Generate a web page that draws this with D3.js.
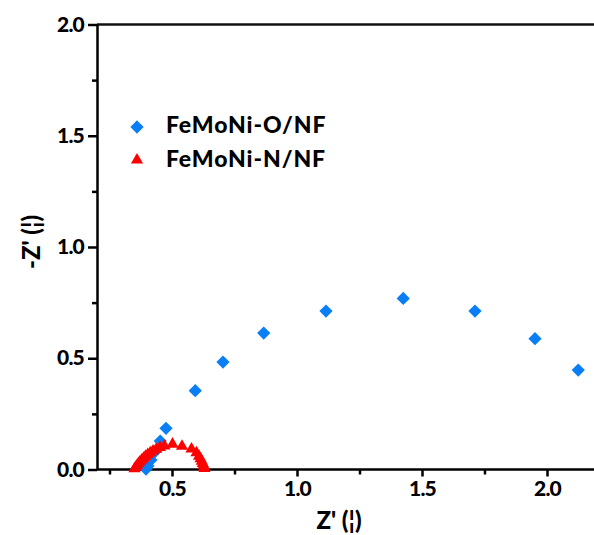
<!DOCTYPE html>
<html lang="en">
<head>
  <meta charset="UTF-8">
  <title>Nyquist plot</title>
  <script src="https://d3js.org/d3.v7.min.js"></script>
  <style>
    body { margin: 0; background: #fff; }
    text { font-family: Lato, "Open Sans", sans-serif; font-weight: 900; }
  </style>
</head>
<body>
<div id="chart"></div>
<script>
// FeMoNi-O/NF : Z' and -Z'' pairs
const oxideRe = [0.396, 0.404, 0.416, 0.432, 0.453, 0.476, 0.593, 0.704, 0.867, 1.116, 1.425, 1.712, 1.952, 2.125];
const oxideIm = [0.002, 0.016, 0.043, 0.080, 0.128, 0.185, 0.354, 0.483, 0.613, 0.712, 0.769, 0.712, 0.588, 0.447];

// FeMoNi-N/NF
const nitrideRe = [0.350, 0.355, 0.360, 0.366, 0.372, 0.379, 0.386, 0.394, 0.403, 0.413, 0.424, 0.437, 0.452, 0.470, 0.502,
                   0.540, 0.578, 0.598, 0.608, 0.614, 0.619, 0.623, 0.626, 0.628, 0.630];
const nitrideIm = [0.003, 0.010, 0.018, 0.027, 0.035, 0.043, 0.051, 0.059, 0.067, 0.075, 0.083, 0.091, 0.099, 0.106, 0.114,
                   0.104, 0.092, 0.075, 0.060, 0.048, 0.037, 0.027, 0.018, 0.010, 0.004];

const seriesNames = ["FeMoNi-O/NF", "FeMoNi-N/NF"];
const xMajor = [0.5, 1.0, 1.5, 2.0];
const xMinor = [0.25, 0.75, 1.25, 1.75];
const yMajor = [0.0, 0.5, 1.0, 1.5, 2.0];
const yMinor = [0.25, 0.75, 1.25, 1.75];

const width = 594, height = 535;
const plotLeft = 97, plotTop = 24.5, plotBottom = 469.5;

const svg = d3.select("#chart").append("svg")
  .attr("width", width)
  .attr("height", height);

// plot runs past the right edge of the picture
const x = d3.scaleLinear().domain([0.2, 2.25]).range([plotLeft, plotLeft + 250 * 2.05]);
const y = d3.scaleLinear().domain([0, 2]).range([plotBottom, plotTop]);

// top frame line
svg.append("line")
  .attr("x1", plotLeft).attr("x2", width + 10)
  .attr("y1", plotTop).attr("y2", plotTop)
  .attr("stroke", "#111").attr("stroke-width", 2.4);

function styleAxis(g) {
  g.select(".domain").attr("stroke", "#000").attr("stroke-width", 2.5);
  g.selectAll(".tick line").attr("stroke", "#000").attr("stroke-width", 2.5);
  g.selectAll(".tick text").attr("fill", "#000").style("font-size", "21px").style("letter-spacing", "-0.8px");
}

// x axis
const xAxisG = svg.append("g").attr("transform", `translate(0,${plotBottom})`);
xAxisG.call(d3.axisBottom(x).tickValues(xMajor).tickFormat(d3.format(".1f")).tickSize(7).tickPadding(5).tickSizeOuter(0));
styleAxis(xAxisG);
xAxisG.select(".domain").attr("d", `M${plotLeft},0H${width + 10}`);
const xMinorG = svg.append("g").attr("transform", `translate(0,${plotBottom})`);
xMinorG.call(d3.axisBottom(x).tickValues(xMinor).tickFormat("").tickSize(5).tickSizeOuter(0));
styleAxis(xMinorG);
xMinorG.select(".domain").remove();

// y axis
const yAxisG = svg.append("g").attr("transform", `translate(${plotLeft},0)`);
yAxisG.call(d3.axisLeft(y).tickValues(yMajor).tickFormat(d3.format(".1f")).tickSize(9).tickPadding(4).tickSizeOuter(0));
styleAxis(yAxisG);
const yMinorG = svg.append("g").attr("transform", `translate(${plotLeft},0)`);
yMinorG.call(d3.axisLeft(y).tickValues(yMinor).tickFormat("").tickSize(5).tickSizeOuter(0));
styleAxis(yMinorG);
yMinorG.select(".domain").remove();

// axis titles
svg.append("text")
  .attr("x", 339).attr("y", 529)
  .attr("text-anchor", "middle")
  .style("font-size", "24px")
  .text("Z' (¦)");

svg.append("text")
  .attr("transform", "translate(40,242) rotate(-90)")
  .attr("text-anchor", "middle")
  .style("font-size", "24px")
  .text("-Z' (¦)");

// markers
const diamond = d3.symbol().type(d3.symbolSquare).size(88);
const triangle = d3.symbol().type(d3.symbolTriangle).size(64);

svg.append("g").selectAll("path")
  .data(d3.zip(oxideRe, oxideIm))
  .join("path")
  .attr("d", diamond)
  .attr("transform", d => `translate(${x(d[0])},${y(d[1])}) rotate(45)`)
  .attr("fill", "#0a7ff5");

svg.append("g").selectAll("path")
  .data(d3.zip(nitrideRe, nitrideIm))
  .join("path")
  .attr("d", triangle)
  .attr("transform", d => `translate(${x(d[0])},${y(d[1])})`)
  .attr("fill", "#ff0000");

// legend
const legend = svg.append("g");
legend.append("path").attr("d", diamond)
  .attr("transform", "translate(137,127) rotate(45)").attr("fill", "#0a7ff5");
legend.append("path").attr("d", triangle)
  .attr("transform", "translate(137,160)").attr("fill", "#ff0000");
legend.selectAll("text.lbl")
  .data(seriesNames)
  .join("text")
  .attr("class", "lbl")
  .attr("x", 166)
  .attr("y", (d, i) => 133 + i * 34)
  .style("font-size", "23px")
  .style("letter-spacing", "0.9px")
  .text(d => d);
</script>
</body>
</html>
